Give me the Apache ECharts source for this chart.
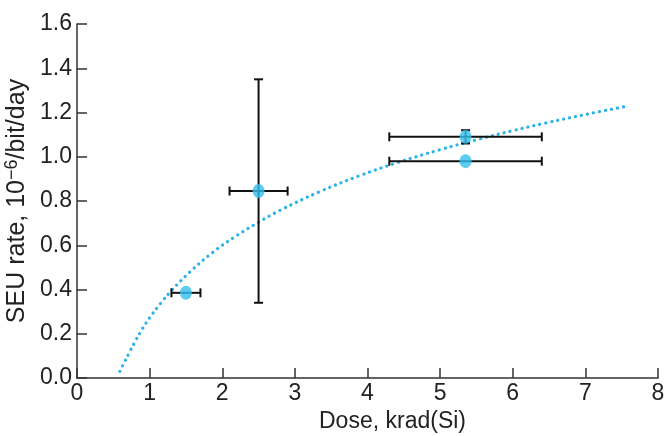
<!DOCTYPE html>
<html>
<head>
<meta charset="utf-8">
<script src="https://cdn.jsdelivr.net/npm/echarts@6/dist/echarts.min.js"></script>
<style>html,body{margin:0;padding:0;background:#fff}#c{width:668px;height:436px}</style>
</head>
<body>
<div id="c"></div>
<script>
// Measured data points
const pointX = [1.5, 2.5, 5.35, 5.35];
const pointY = [0.385, 0.845, 1.09, 0.98];
const xErrLow = [1.30, 2.10, 4.30, 4.30];
const xErrHigh = [1.70, 2.90, 6.40, 6.40];
const yErrLow = [0.385, 0.34, 1.06, 0.98];
const yErrHigh = [0.385, 1.35, 1.12, 0.98];

// Fit curve
const fitX = [0.59, 0.65, 0.72, 0.8, 0.9, 1.0, 1.15, 1.31, 1.55, 1.87, 2.2, 2.5, 2.79, 3.34, 3.89, 4.4, 5.0, 5.54, 6.0, 6.46, 7.0, 7.57];
const fitY = [0.03, 0.07, 0.115, 0.165, 0.222, 0.272, 0.337, 0.398, 0.478, 0.568, 0.644, 0.704, 0.757, 0.842, 0.914, 0.972, 1.032, 1.08, 1.118, 1.153, 1.191, 1.228];

// Axis ticks
const xTicks = [0, 1, 2, 3, 4, 5, 6, 7, 8];
const yTicks = [0.0, 0.2, 0.4, 0.6, 0.8, 1.0, 1.2, 1.4, 1.6];

const FONT = 'Liberation Sans, Arial, sans-serif';
const TXT = '#222';
const BLUE = '#33bfee';

const errData = pointX.map((x, i) => [x, pointY[i], xErrLow[i], xErrHigh[i], yErrLow[i], yErrHigh[i]]);
const ptData = pointX.map((x, i) => [x, pointY[i]]);
const fitData = fitX.map((x, i) => [x, fitY[i]]);

const chart = echarts.init(document.getElementById('c'), null, {renderer: 'canvas'});
chart.setOption({
  animation: false,
  backgroundColor: '#fff',
  grid: {left: 77, right: 10, top: 24, bottom: 58, containLabel: false, outerBoundsMode: 'none'},
  xAxis: {
    type: 'value', min: xTicks[0], max: xTicks[xTicks.length - 1], interval: 1,
    name: 'Dose, krad(Si)', nameLocation: 'middle', nameGap: 31,
    nameTextStyle: {fontFamily: FONT, fontSize: 23, color: TXT, padding: [0, 0, 0, 50]},
    axisLine: {show: true, lineStyle: {color: '#333', width: 1.5}},
    axisTick: {show: true, inside: true, length: 10, lineStyle: {color: '#333', width: 1.5}},
    axisLabel: {fontFamily: FONT, fontSize: 23, color: TXT, margin: 4,
      formatter: v => String(v)},
    splitLine: {show: false}
  },
  yAxis: {
    type: 'value', min: yTicks[0], max: yTicks[yTicks.length - 1], interval: 0.2,
    name: 'SEU rate, 10{sup|\u22126}/bit/day', nameLocation: 'middle', nameGap: 42, nameRotate: 90,
    nameTextStyle: {fontFamily: FONT, fontSize: 25, color: TXT,
      rich: {sup: {fontFamily: FONT, fontSize: 18, color: TXT, padding: [0, 0, 10, 0]}}},
    axisLine: {show: true, lineStyle: {color: '#333', width: 1.5}},
    axisTick: {show: true, inside: true, length: 10, lineStyle: {color: '#333', width: 1.5}},
    axisLabel: {fontFamily: FONT, fontSize: 23, color: TXT, margin: 5,
      formatter: v => v.toFixed(1)},
    splitLine: {show: false}
  },
  series: [
    {
      type: 'line', data: fitData, smooth: 0.4, showSymbol: false, z: 3,
      lineStyle: {color: '#29b3e6', width: 3.2, type: [0.1, 6], cap: 'round'}
    },
    {
      type: 'custom', data: errData, z: 4,
      encode: {x: 0, y: 1},
      renderItem: function (params, api) {
        const x = api.value(0), y = api.value(1);
        const xl = api.value(2), xh = api.value(3), yl = api.value(4), yh = api.value(5);
        const cap = 4.5;
        const st = {stroke: '#111', lineWidth: 2};
        const ch = [];
        if (xl !== xh) {
          const a = api.coord([xl, y]), b = api.coord([xh, y]);
          ch.push({type: 'line', shape: {x1: a[0], y1: a[1], x2: b[0], y2: b[1]}, style: st});
          ch.push({type: 'line', shape: {x1: a[0], y1: a[1] - cap, x2: a[0], y2: a[1] + cap}, style: st});
          ch.push({type: 'line', shape: {x1: b[0], y1: b[1] - cap, x2: b[0], y2: b[1] + cap}, style: st});
        }
        if (yl !== yh) {
          const a = api.coord([x, yl]), b = api.coord([x, yh]);
          ch.push({type: 'line', shape: {x1: a[0], y1: a[1], x2: b[0], y2: b[1]}, style: st});
          ch.push({type: 'line', shape: {x1: a[0] - cap, y1: a[1], x2: a[0] + cap, y2: a[1]}, style: st});
          ch.push({type: 'line', shape: {x1: b[0] - cap, y1: b[1], x2: b[0] + cap, y2: b[1]}, style: st});
        }
        return {type: 'group', children: ch};
      }
    },
    {
      type: 'scatter', data: ptData, z: 5, symbol: 'circle', symbolSize: [12, 14],
      itemStyle: {color: BLUE}
    }
  ]
});
</script>
</body>
</html>
